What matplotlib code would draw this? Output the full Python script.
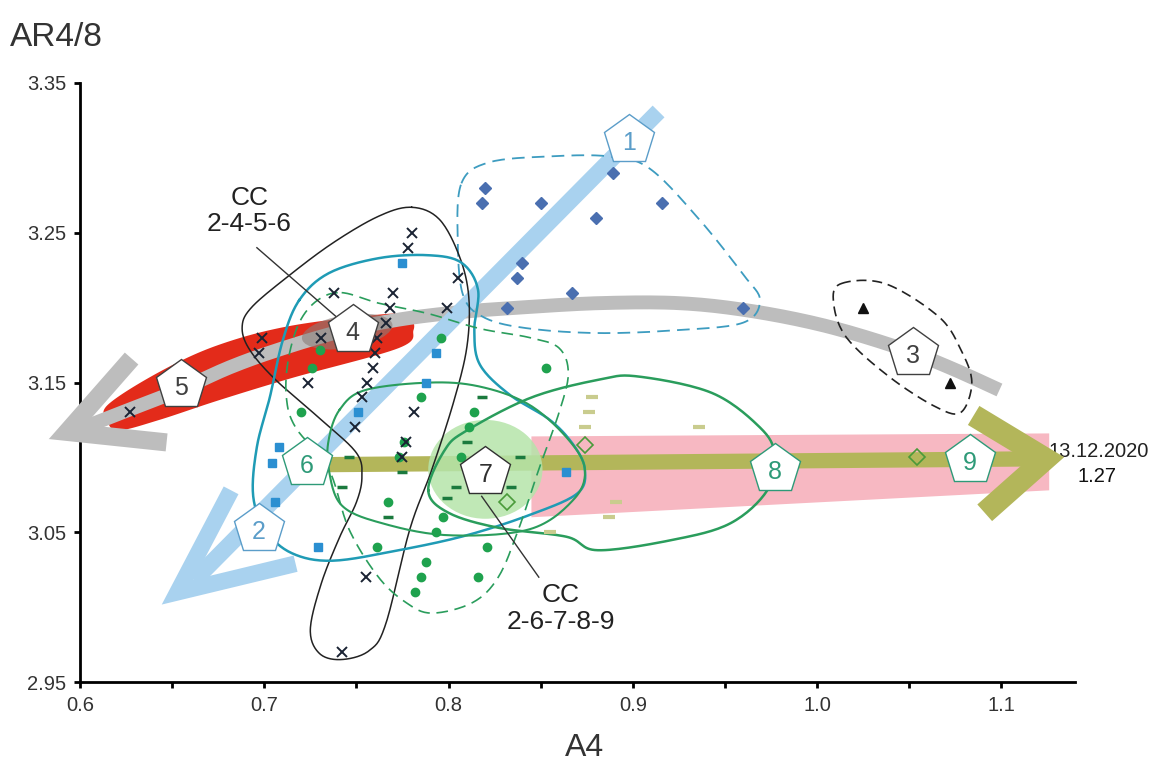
import numpy as np
import matplotlib.pyplot as plt
from matplotlib.patches import Ellipse

plt.rcParams['font.family'] = ['Liberation Sans', 'DejaVu Sans']

# ---- sample groups ----
diamond_x = [0.820, 0.818, 0.850, 0.889, 0.916, 0.880, 0.840, 0.837, 0.867, 0.832, 0.960]
diamond_y = [3.28, 3.27, 3.27, 3.29, 3.27, 3.26, 3.23, 3.22, 3.21, 3.20, 3.20]

triangle_x = [1.025, 1.072]
triangle_y = [3.20, 3.15]

square_x = [0.775, 0.793, 0.788, 0.751, 0.708, 0.704, 0.706, 0.729, 0.864]
square_y = [3.23, 3.17, 3.15, 3.13, 3.107, 3.096, 3.07, 3.04, 3.09]

cross_x = [0.780, 0.778, 0.805, 0.738, 0.770, 0.799, 0.768, 0.766, 0.699, 0.697, 0.731,
           0.761, 0.760, 0.759, 0.756, 0.753, 0.724, 0.781, 0.749, 0.627, 0.777, 0.775,
           0.755, 0.742]
cross_y = [3.25, 3.24, 3.22, 3.21, 3.21, 3.20, 3.20, 3.19, 3.18, 3.17, 3.18,
           3.18, 3.17, 3.16, 3.15, 3.14, 3.15, 3.13, 3.12, 3.13, 3.11, 3.10,
           3.02, 2.97]

circle_x = [0.796, 0.853, 0.720, 0.785, 0.814, 0.811, 0.807, 0.767, 0.797, 0.793, 0.761,
            0.821, 0.788, 0.785, 0.782, 0.816, 0.776, 0.773, 0.730, 0.726]
circle_y = [3.18, 3.16, 3.13, 3.14, 3.13, 3.12, 3.10, 3.07, 3.06, 3.05, 3.04,
            3.04, 3.03, 3.02, 3.01, 3.02, 3.11, 3.10, 3.172, 3.16]

dash_dark_x = [0.818, 0.839, 0.834, 0.799, 0.804, 0.810, 0.767, 0.742, 0.746, 0.775]
dash_dark_y = [3.14, 3.10, 3.08, 3.073, 3.08, 3.11, 3.06, 3.08, 3.10, 3.09]

dash_light_x = [0.878, 0.876, 0.874, 0.855, 0.887, 0.936, 0.891]
dash_light_y = [3.14, 3.13, 3.12, 3.05, 3.06, 3.12, 3.07]

open_diamond_x = [0.874, 0.832, 1.054]
open_diamond_y = [3.108, 3.07, 3.10]

# ---- group outlines ----
env1_x = [0.807, 0.822, 0.855, 0.887, 0.909, 0.936, 0.960, 0.969, 0.960, 0.925, 0.882, 0.844, 0.820, 0.808, 0.805]
env1_y = [3.283, 3.297, 3.301, 3.301, 3.293, 3.259, 3.222, 3.205, 3.190, 3.185, 3.183, 3.186, 3.193, 3.208, 3.245]

env3_x = [1.013, 1.037, 1.066, 1.078, 1.084, 1.078, 1.064, 1.039, 1.016, 1.009]
env3_y = [3.216, 3.216, 3.194, 3.172, 3.150, 3.130, 3.134, 3.154, 3.180, 3.203]

env4_x = [0.780, 0.795, 0.806, 0.811, 0.810, 0.803, 0.791, 0.779, 0.766, 0.757, 0.742, 0.730, 0.725,
          0.731, 0.741, 0.750, 0.753, 0.750, 0.731, 0.706, 0.692, 0.688, 0.693, 0.712, 0.737, 0.762]
env4_y = [3.267, 3.259, 3.234, 3.207, 3.174, 3.138, 3.092, 3.052, 2.989, 2.971, 2.965, 2.969, 2.985,
          3.016, 3.047, 3.070, 3.087, 3.103, 3.125, 3.152, 3.172, 3.187, 3.200, 3.220, 3.243, 3.261]

env2_x = [0.719, 0.735, 0.762, 0.789, 0.807, 0.816, 0.814, 0.817, 0.833, 0.855, 0.868, 0.874,
          0.870, 0.845, 0.810, 0.773, 0.737, 0.715, 0.701, 0.694, 0.696, 0.703, 0.710]
env2_y = [3.205, 3.223, 3.233, 3.235, 3.230, 3.212, 3.185, 3.162, 3.142, 3.125, 3.108, 3.092,
          3.076, 3.062, 3.048, 3.038, 3.031, 3.036, 3.051, 3.074, 3.107, 3.140, 3.178]

env6_x = [0.742, 0.762, 0.789, 0.817, 0.844, 0.860, 0.865, 0.860, 0.849, 0.838, 0.827, 0.813,
          0.791, 0.777, 0.762, 0.746, 0.735, 0.717, 0.712, 0.713, 0.719, 0.729]
env6_y = [3.210, 3.203, 3.196, 3.186, 3.180, 3.173, 3.156, 3.130, 3.092, 3.052, 3.020, 3.003,
          2.996, 3.003, 3.020, 3.052, 3.092, 3.120, 3.140, 3.165, 3.190, 3.205]

env7_x = [0.741, 0.755, 0.791, 0.818, 0.844, 0.865, 0.874, 0.868, 0.844, 0.800, 0.764, 0.742, 0.735, 0.735]
env7_y = [3.132, 3.145, 3.150, 3.147, 3.135, 3.112, 3.092, 3.072, 3.052, 3.048, 3.056, 3.068, 3.092, 3.112]

env8_x = [0.789, 0.798, 0.810, 0.845, 0.882, 0.903, 0.943, 0.969, 0.977, 0.973, 0.953, 0.922,
          0.881, 0.864, 0.827, 0.800]
env8_y = [3.078, 3.105, 3.118, 3.140, 3.152, 3.154, 3.143, 3.120, 3.102, 3.078, 3.056, 3.045,
          3.038, 3.047, 3.053, 3.063]

# ---- trend bands ----
gray_x = [1.099, 1.072, 1.045, 1.004, 0.963, 0.925, 0.882, 0.838, 0.806, 0.773, 0.741, 0.708,
          0.681, 0.654, 0.627, 0.600]
gray_y = [3.145, 3.160, 3.173, 3.188, 3.198, 3.203, 3.203, 3.200, 3.197, 3.192, 3.184, 3.172,
          3.160, 3.145, 3.132, 3.119]
gray_head_x = [0.628, 0.593, 0.647]
gray_head_y = [3.166, 3.117, 3.110]

red_x = [0.615, 0.643, 0.675, 0.715, 0.769, 0.779, 0.781, 0.773, 0.715, 0.675, 0.643, 0.621, 0.615]
red_y = [3.135, 3.157, 3.175, 3.188, 3.196, 3.193, 3.185, 3.173, 3.153, 3.138, 3.125, 3.118, 3.124]

blue_x = [0.914, 0.662]
blue_y = [3.331, 3.018]
blue_head_x = [0.682, 0.653, 0.717]
blue_head_y = [3.078, 3.010, 3.029]

olive_x = [0.719, 1.118]
olive_y = [3.095, 3.099]
olive_head_x = [1.085, 1.124, 1.091]
olive_head_y = [3.128, 3.099, 3.063]

pink_x = [0.845, 1.126, 1.126, 0.845]
pink_y = [3.114, 3.116, 3.078, 3.060]

# ---- numbered stages ----
stage_labels = ['1', '2', '3', '4', '5', '6', '7', '8', '9']
stage_x = [0.898, 0.697, 1.052, 0.748, 0.655, 0.723, 0.820, 0.977, 1.083]
stage_y = [3.312, 3.052, 3.170, 3.185, 3.148, 3.096, 3.090, 3.092, 3.098]
stage_colors = ['#5b9dc9', '#5b9dc9', '#404040', '#404040', '#404040',
                '#2e9a78', '#303030', '#2e9a78', '#2e9a78']


def catmull(x, y, closed=True, n=16):
    p = np.column_stack([x, y])
    m = len(p)
    t = np.linspace(0, 1, n, endpoint=False)[:, None]
    segs = []
    rng = range(m) if closed else range(m - 1)
    for i in rng:
        if closed:
            p0, p1, p2, p3 = p[i - 1], p[i], p[(i + 1) % m], p[(i + 2) % m]
        else:
            p0 = p[max(i - 1, 0)]
            p1, p2 = p[i], p[i + 1]
            p3 = p[min(i + 2, m - 1)]
        segs.append(0.5 * (2 * p1 + (-p0 + p2) * t + (2 * p0 - 5 * p1 + 4 * p2 - p3) * t ** 2
                           + (-p0 + 3 * p1 - 3 * p2 + p3) * t ** 3))
    segs.append(p[:1] if closed else p[-1:])
    out = np.vstack(segs)
    return out[:, 0], out[:, 1]


fig = plt.figure(figsize=(11.53, 7.72), dpi=100)
ax = fig.add_axes([80 / 1153, 1 - 682 / 772, 995 / 1153, 599 / 772])

# bands
ax.fill(pink_x, pink_y, color='#f7b8c2', lw=0, zorder=1)
rx, ry = catmull(red_x, red_y)
ax.fill(rx, ry, color='#e32b1a', lw=0, zorder=2)
gx, gy = catmull(gray_x, gray_y, closed=False)
ax.plot(gx, gy, color='#bdbdbd', lw=10, solid_capstyle='butt', zorder=3, clip_on=False)
ax.plot(gray_head_x, gray_head_y, color='#bdbdbd', lw=13, solid_joinstyle='miter',
        solid_capstyle='butt', zorder=3, clip_on=False)
ax.add_patch(Ellipse((0.745, 3.184), 0.05, 0.022, angle=12, color='#8a7d78', alpha=0.6,
                     lw=0, zorder=3.1))
ax.plot(blue_x, blue_y, color='#a9d2ef', lw=12, solid_capstyle='butt', zorder=3.5)
ax.plot(blue_head_x, blue_head_y, color='#a9d2ef', lw=12, solid_joinstyle='miter',
        solid_capstyle='butt', zorder=3.5, clip_on=False)
ax.plot(olive_x, olive_y, color='#b3b65a', lw=11, solid_capstyle='butt', zorder=3.6)
ax.plot(olive_head_x, olive_head_y, color='#b3b65a', lw=16, solid_joinstyle='miter',
        solid_capstyle='butt', zorder=3.6, clip_on=False)
ax.add_patch(Ellipse((0.820, 3.092), 0.062, 0.066, color='#b5e4aa', alpha=0.85, lw=0, zorder=3.7))

# outlines
outlines = [
    (env1_x, env1_y, '#3d9cc0', (7, 4), 1.3),
    (env3_x, env3_y, '#222222', (6, 3.5), 1.2),
    (env4_x, env4_y, '#222222', None, 1.1),
    (env2_x, env2_y, '#1f9bb5', None, 1.8),
    (env6_x, env6_y, '#2a9d5c', (7, 4), 1.2),
    (env7_x, env7_y, '#2a9d5c', None, 1.5),
    (env8_x, env8_y, '#2a9d5c', None, 1.8),
]
for ex, ey, col, dash, lw in outlines:
    sx, sy = catmull(ex, ey)
    line, = ax.plot(sx, sy, color=col, lw=lw, zorder=5)
    if dash:
        line.set_dashes(dash)

# markers
ax.plot(diamond_x, diamond_y, 'D', color='#4a6fb0', ms=6.5, zorder=6, lw=0)
ax.plot(triangle_x, triangle_y, '^', color='#111111', ms=7, zorder=6, lw=0)
ax.plot(square_x, square_y, 's', color='#2b8fd1', ms=5.5, zorder=6, lw=0)
ax.plot(circle_x, circle_y, 'o', color='#1fa24e', ms=6, zorder=6, lw=0)
ax.plot(cross_x, cross_y, 'x', color='#1a2333', ms=7, mew=1.4, zorder=6.5, lw=0)
ax.plot(dash_dark_x, dash_dark_y, '_', color='#1b7a3e', ms=7, mew=2.5, zorder=6, lw=0)
ax.plot(dash_light_x, dash_light_y, '_', color='#c9cc8e', ms=8, mew=3, zorder=6, lw=0)
ax.plot(open_diamond_x, open_diamond_y, 'D', mfc='none', mec='#4a9a3a', mew=1.2, ms=8,
        zorder=6, lw=0)

# stages
for lab, x, y, c in zip(stage_labels, stage_x, stage_y, stage_colors):
    ax.plot(x, y, 'p', ms=38, mfc='white', mec=c, mew=1.0, zorder=8)
    ax.text(x, y - 0.002, lab, color=c, fontsize=18, ha='center', va='center', zorder=9)

# annotations
ax.plot([0.696, 0.739], [3.240, 3.194], color='#333333', lw=1, zorder=7.5)
ax.text(0.692, 3.2645, 'CC\n2-4-5-6', fontsize=19, ha='center', va='center',
        color='#222222', linespacing=1.15, zorder=9)
ax.plot([0.818, 0.849], [3.074, 3.020], color='#333333', lw=1, zorder=7.5)
ax.text(0.861, 2.999, 'CC\n2-6-7-8-9', fontsize=19, ha='center', va='center',
        color='#222222', linespacing=1.15, zorder=9)
ax.text(1.153, 3.104, '13.12.2020', fontsize=14.5, ha='center', va='center',
        color='#222222', clip_on=False)
ax.text(1.152, 3.087, '1.27', fontsize=14.5, ha='center', va='center',
        color='#111111', clip_on=False)

# axes
ax.set_xlim(0.6, 1.14)
ax.set_ylim(2.95, 3.35)
ax.spines['top'].set_visible(False)
ax.spines['right'].set_visible(False)
ax.spines['left'].set_linewidth(2)
ax.spines['bottom'].set_linewidth(2)
ax.set_xticks([0.6, 0.7, 0.8, 0.9, 1.0, 1.1])
ax.set_xticklabels(['0.6', '0.7', '0.8', '0.9', '1.0', '1.1'])
ax.set_xticks([0.65, 0.75, 0.85, 0.95, 1.05], minor=True)
ax.set_yticks([2.95, 3.05, 3.15, 3.25, 3.35])
ax.set_yticklabels(['2.95', '3.05', '3.15', '3.25', '3.35'])
ax.tick_params(which='both', direction='out', length=4, width=2, labelsize=14.5,
               labelcolor='#333333', pad=6)
fig.text(10 / 1153, 1 - 38 / 772, 'AR4/8', fontsize=24, color='#333333', ha='left', va='center')
fig.text(585 / 1153, 1 - 748 / 772, 'A4', fontsize=23, color='#333333', ha='center', va='center')

fig.savefig('out.png', dpi=100)
